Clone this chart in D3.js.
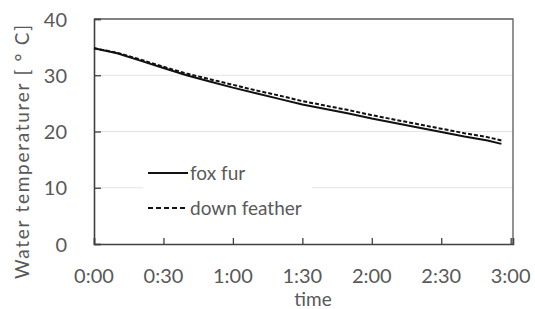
<!DOCTYPE html>
<html>
<head>
<meta charset="utf-8">
<script src="https://cdn.jsdelivr.net/npm/d3@7"></script>
<style>
  body { margin: 0; background: #fff; }
  text { font-family: Lato, "Open Sans", sans-serif; fill: #595959; }
</style>
</head>
<body>
<div id="chart"></div>
<script>
// time in minutes
var minutes = [0, 10, 20, 30, 40, 50, 60, 70, 80, 90, 100, 110, 120, 130, 140, 150, 160, 170, 176];
var foxFur = [34.8, 33.9, 32.6, 31.3, 30.0, 28.9, 27.8, 26.8, 25.8, 24.8, 24.0, 23.2, 22.3, 21.5, 20.7, 19.9, 19.1, 18.4, 17.8];
var downFeather = [34.8, 34.0, 32.8, 31.5, 30.3, 29.3, 28.3, 27.3, 26.4, 25.4, 24.6, 23.8, 22.9, 22.1, 21.3, 20.5, 19.7, 19.0, 18.4];
var seriesNames = ["fox fur", "down feather"];
var xTicks = [0, 30, 60, 90, 120, 150, 180];
var xTickLabels = ["0:00", "0:30", "1:00", "1:30", "2:00", "2:30", "3:00"];
var yTicks = [0, 10, 20, 30, 40];

var width = 535, height = 309;
var margin = {top: 19, left: 94, right: 22, bottom: 65};

var svg = d3.select("#chart").append("svg")
    .attr("width", width)
    .attr("height", height);

var x = d3.scaleLinear().domain([0, 181]).range([margin.left, width - margin.right]);
var y = d3.scaleLinear().domain([0, 40]).range([height - margin.bottom, margin.top]);

// gridlines
svg.append("g").selectAll("line")
    .data([10, 20, 30])
    .enter().append("line")
    .attr("x1", x(0)).attr("x2", x(181))
    .attr("y1", function(d){ return y(d); })
    .attr("y2", function(d){ return y(d); })
    .attr("stroke", "#e3e3e3")
    .attr("stroke-width", 1.2);

// frame top / right
svg.append("path")
    .attr("d", "M" + x(0) + "," + y(40) + "H" + x(181) + "V" + y(0))
    .attr("fill", "none")
    .attr("stroke", "#595959")
    .attr("stroke-width", 1.3);

// y axis
var yAxis = svg.append("g")
    .attr("transform", "translate(" + x(0) + ",0)")
    .call(d3.axisRight(y).tickValues(yTicks).tickSize(7).tickFormat(""));
yAxis.select(".domain").attr("stroke", "#404040").attr("stroke-width", 1.6);
yAxis.selectAll(".tick line").attr("stroke", "#404040").attr("stroke-width", 1.3);

svg.append("g").selectAll("text")
    .data(yTicks)
    .enter().append("text")
    .attr("x", 67)
    .attr("y", function(d){ return y(d) + 7.5; })
    .attr("text-anchor", "end")
    .style("font-size", "20px")
    .text(function(d){ return d; });

// x axis
var xAxis = svg.append("g")
    .attr("transform", "translate(0," + y(0) + ")")
    .call(d3.axisTop(x).tickValues(xTicks).tickSize(6).tickFormat(""));
xAxis.select(".domain").attr("stroke", "#404040").attr("stroke-width", 1.6);
xAxis.selectAll(".tick line").attr("stroke", "#404040").attr("stroke-width", 1.3);

svg.append("g").selectAll("text")
    .data(xTicks)
    .enter().append("text")
    .attr("x", function(d){ return x(d); })
    .attr("y", 283)
    .attr("text-anchor", "middle")
    .style("font-size", "20px")
    .text(function(d, i){ return xTickLabels[i]; });

// axis titles
svg.append("text")
    .attr("x", 313).attr("y", 306)
    .attr("text-anchor", "middle")
    .style("font-size", "19px")
    .text("time");

svg.append("text")
    .attr("transform", "translate(29,152) rotate(-90)")
    .attr("text-anchor", "middle")
    .attr("textLength", 254)
    .style("font-size", "19px")
    .text("Water temperaturer [ ° C]");

// lines
var line = d3.line()
    .x(function(d){ return x(d[0]); })
    .y(function(d){ return y(d[1]); });

svg.append("path")
    .datum(minutes.map(function(m, i){ return [m, downFeather[i]]; }))
    .attr("d", line)
    .attr("fill", "none")
    .attr("stroke", "#111")
    .attr("stroke-width", 2)
    .attr("stroke-dasharray", "4,2");

svg.append("path")
    .datum(minutes.map(function(m, i){ return [m, foxFur[i]]; }))
    .attr("d", line)
    .attr("fill", "none")
    .attr("stroke", "#111")
    .attr("stroke-width", 2);

// legend
var legend = svg.append("g");
legend.append("rect")
    .attr("x", 143).attr("y", 158)
    .attr("width", 169).attr("height", 68)
    .attr("fill", "#fff");

var legendRows = legend.selectAll("g.row")
    .data(seriesNames)
    .enter().append("g")
    .attr("class", "row")
    .attr("transform", function(d, i){ return "translate(148," + (173 + i * 35) + ")"; });

legendRows.append("line")
    .attr("x1", 0).attr("x2", 40)
    .attr("stroke", "#111")
    .attr("stroke-width", 2)
    .attr("stroke-dasharray", function(d, i){ return i == 1 ? "5,3" : null; });

legendRows.append("text")
    .attr("x", 42)
    .attr("dy", "0.35em")
    .style("font-size", "19px")
    .text(function(d){ return d; });
</script>
</body>
</html>
